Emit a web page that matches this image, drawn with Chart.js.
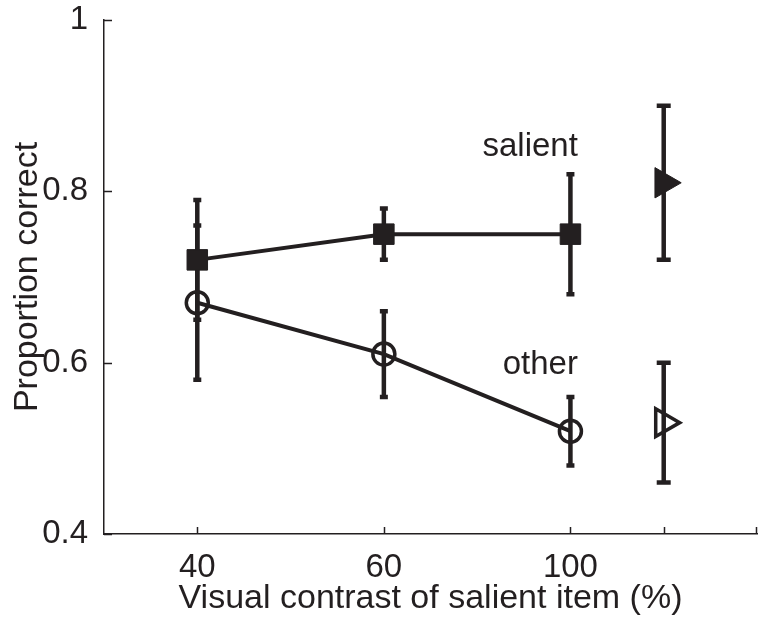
<!DOCTYPE html>
<html>
<head>
<meta charset="utf-8">
<script src="https://cdn.jsdelivr.net/npm/chart.js@4/dist/chart.umd.min.js"></script>
<style>
  html, body { margin: 0; padding: 0; background: #fff; }
  #wrap { width: 766px; height: 623px; }
</style>
</head>
<body>
<div id="wrap"><canvas id="c" width="766" height="623"></canvas></div>
<script>
/* Proportion correct vs. visual contrast of the salient item */

// x positions on the axis, and the labels shown under them
const xPos = [1, 2, 3];
const xTickPos = [1, 2, 3, 3.5];
const xTickLabels = ['40', '60', '100', ''];
const yTickPos = [0.4, 0.6, 0.8, 1];
const yTickLabels = ['0.4', '0.6', '0.8', '1'];

// per-contrast means and error-bar half widths
const salient = [0.72, 0.75, 0.75];
const salientErr = [0.07, 0.03, 0.07];
const other = [0.67, 0.61, 0.52];
const otherErr = [0.09, 0.05, 0.04];

// pooled values, drawn at the extra position to the right
const pooledX = [3.5];
const salientPooled = [0.81];
const salientPooledErr = [0.09];
const otherPooled = [0.53];
const otherPooledErr = [0.07];

const INK = '#231f20';
const FONT = "'Liberation Sans', Arial, Helvetica, sans-serif";

const pts = (xs, ys) => xs.map((x, i) => ({ x, y: ys[i] }));

// vertical error bars with caps, read from dataset.errors / dataset.capWidth
const errorBars = {
    id: 'errorBars',
    beforeDatasetsDraw(chart) {
        const { ctx, scales: { x, y } } = chart;
        ctx.save();
        ctx.strokeStyle = INK;
        ctx.lineWidth = 4.5;
        ctx.lineCap = 'butt';
        chart.data.datasets.forEach((ds) => {
            if (!ds.errors) return;
            ds.data.forEach((p, i) => {
                const e = ds.errors[i];
                const px = x.getPixelForValue(p.x);
                const top = y.getPixelForValue(p.y + e);
                const bot = y.getPixelForValue(p.y - e);
                const hw = ds.capWidth / 2;
                ctx.beginPath();
                ctx.moveTo(px, top);
                ctx.lineTo(px, bot);
                ctx.moveTo(px - hw, top);
                ctx.lineTo(px + hw, top);
                ctx.moveTo(px - hw, bot);
                ctx.lineTo(px + hw, bot);
                ctx.stroke();
            });
        });
        ctx.restore();
    },
};

// inward tick marks (MATLAB style) and the two text labels
const axisDecor = {
    id: 'axisDecor',
    afterDraw(chart) {
        const { ctx, chartArea: a, scales: { x, y } } = chart;
        ctx.save();
        ctx.strokeStyle = INK;
        ctx.lineWidth = 1.5;
        ctx.beginPath();
        xTickPos.forEach((v) => {
            const px = Math.round(x.getPixelForValue(v)) + 0.5;
            ctx.moveTo(px, a.bottom);
            ctx.lineTo(px, a.bottom - 7);
        });
        // right end of the axis also carries a small tick
        ctx.moveTo(a.right - 0.5, a.bottom);
        ctx.lineTo(a.right - 0.5, a.bottom - 7);
        yTickPos.forEach((v) => {
            const py = Math.round(y.getPixelForValue(v)) + 0.5;
            ctx.moveTo(a.left, py);
            ctx.lineTo(a.left + 8, py);
        });
        ctx.stroke();

        ctx.fillStyle = INK;
        ctx.font = `33px ${FONT}`;
        ctx.textAlign = 'right';
        ctx.textBaseline = 'middle';
        ctx.fillText('salient', x.getPixelForValue(3.04), y.getPixelForValue(0.852));
        ctx.fillText('other', x.getPixelForValue(3.04), y.getPixelForValue(0.597));
        ctx.restore();
    },
};

new Chart(document.getElementById('c'), {
    type: 'line',
    data: {
        datasets: [
            {
                label: 'salient',
                data: pts(xPos, salient),
                errors: salientErr,
                capWidth: 8,
                borderColor: INK,
                borderWidth: 4,
                pointStyle: 'rect',
                pointRadius: 14.5,
                pointBorderWidth: 1,
                pointBackgroundColor: INK,
                pointBorderColor: INK,
            },
            {
                label: 'other',
                data: pts(xPos, other),
                errors: otherErr,
                capWidth: 8,
                borderColor: INK,
                borderWidth: 4,
                pointStyle: 'circle',
                pointRadius: 11,
                pointBorderWidth: 3.5,
                pointBackgroundColor: 'rgba(0,0,0,0)',
                pointBorderColor: INK,
            },
            {
                label: 'salient pooled',
                data: pts(pooledX, salientPooled),
                errors: salientPooledErr,
                capWidth: 14,
                showLine: false,
                pointStyle: 'triangle',
                pointRotation: 90,
                pointRadius: 17.5,
                pointBorderWidth: 1,
                pointBackgroundColor: INK,
                pointBorderColor: INK,
            },
            {
                label: 'other pooled',
                data: pts(pooledX, otherPooled),
                errors: otherPooledErr,
                capWidth: 14,
                showLine: false,
                pointStyle: 'triangle',
                pointRotation: 90,
                pointRadius: 16,
                pointBorderWidth: 3.5,
                pointBackgroundColor: 'rgba(0,0,0,0)',
                pointBorderColor: INK,
            },
        ],
    },
    options: {
        responsive: false,
        animation: false,
        clip: false,
        layout: { autoPadding: false, padding: { left: 0, right: 9, top: 20, bottom: 0 } },
        plugins: { legend: { display: false }, tooltip: { enabled: false } },
        scales: {
            x: {
                type: 'linear',
                min: 0.5,
                max: 4,
                afterBuildTicks: (s) => { s.ticks = xTickPos.map((v) => ({ value: v })); },
                afterFit: (s) => { s.height = 89; s.paddingLeft = 0; s.paddingRight = 0; },
                grid: { display: false, drawTicks: false },
                border: { display: true, color: INK, width: 1.5 },
                ticks: {
                    color: INK,
                    padding: 14,
                    maxRotation: 0,
                    autoSkip: false,
                    font: { family: FONT, size: 33 },
                    callback: (v) => xTickLabels[xTickPos.indexOf(v)],
                },
                title: {
                    display: true,
                    text: 'Visual contrast of salient item (%)',
                    color: INK,
                    padding: { top: 0, bottom: 4 },
                    font: { family: FONT, size: 34 },
                },
            },
            y: {
                min: 0.4,
                max: 1,
                afterBuildTicks: (s) => { s.ticks = yTickPos.map((v) => ({ value: v })); },
                afterFit: (s) => { s.width = 104; s.paddingTop = 0; s.paddingBottom = 0; },
                grid: { display: false, drawTicks: false },
                border: { display: true, color: INK, width: 1.5 },
                ticks: {
                    color: INK,
                    padding: 16,
                    autoSkip: false,
                    font: { family: FONT, size: 33 },
                    callback: (v) => yTickLabels[yTickPos.indexOf(v)],
                },
                title: {
                    display: true,
                    text: 'Proportion correct',
                    color: INK,
                    padding: { top: 7, bottom: 0 },
                    font: { family: FONT, size: 34 },
                },
            },
        },
    },
    plugins: [errorBars, axisDecor],
});
</script>
</body>
</html>
